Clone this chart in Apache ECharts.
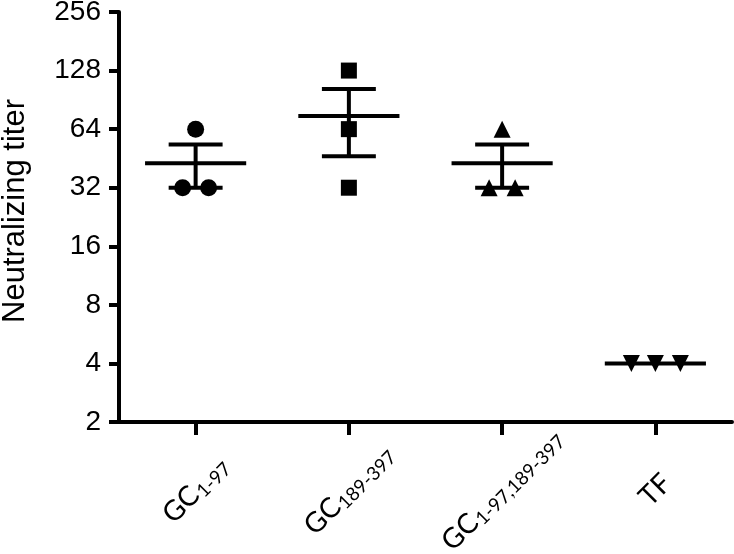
<!DOCTYPE html>
<html>
<head>
<meta charset="utf-8">
<script src="https://cdn.jsdelivr.net/npm/echarts@6/dist/echarts.min.js"></script>
<style>
html,body{margin:0;padding:0;background:#fff;}
#chart{width:734px;height:554px;}
</style>
</head>
<body>
<div id="chart"></div>
<script>
// ---- data ----
const categories = ['GC1-97', 'GC189-397', 'GC1-97,189-397', 'TF'];
const labelMain = ['GC', 'GC', 'GC', 'TF'];
const labelSub = ['1-97', '189-397', '1-97,189-397', ''];
const yTicks = [2, 4, 8, 16, 32, 64, 128, 256];

const pointsGC1 = [64, 32, 32];
const pointsGC189 = [128, 64, 32];
const pointsGCboth = [64, 32, 32];
const pointsTF = [4, 4, 4];

const means = [42.7, 74.7, 42.7, 4];
const semLow = [32, 46.4, 32, 4];
const semHigh = [53.3, 102.9, 53.3, 4];

// ---- styles (horizontal jitter in px, not data) ----
const jitterGC1 = [0, -13, 13];
const jitterGC189 = [0, 0, 0];
const jitterGCboth = [0, -13, 13];
const jitterTF = [-24, 0, 25];

const LW = 4;
const FONT = 'Liberation Sans, Arial, sans-serif';
const XFONT = 'Lato, Open Sans, sans-serif';

function pts(catIdx, values, jitter) {
  return values.map((v, i) => ({ value: [categories[catIdx], v], symbolOffset: [jitter[i], 0] }));
}

const chart = echarts.init(document.getElementById('chart'), null, { renderer: 'canvas' });

const scatterBase = {
  type: 'scatter',
  symbolSize: 17,
  itemStyle: { color: '#000', opacity: 1 },
  z: 3,
  silent: true
};

const option = {
  animation: false,
  backgroundColor: '#fff',
  grid: { left: 119, right: 2, top: 12, bottom: 132, containLabel: false, outerBoundsMode: 'none' },
  xAxis: {
    type: 'category',
    data: categories,
    boundaryGap: true,
    axisLine: { show: true, lineStyle: { color: '#000', width: LW } },
    axisTick: { show: true, alignWithLabel: true, length: 13, lineStyle: { color: '#000', width: LW } },
    axisLabel: {
      rotate: 45,
      align: 'center',
      verticalAlign: 'middle',
      margin: 68,
      interval: 0,
      hideOverlap: false,
      formatter: function (v, i) {
        const s = labelSub[i];
        return '{m|' + labelMain[i] + '}' + (s ? '{s|' + s + '}' : '');
      },
      rich: {
        m: { fontFamily: XFONT, fontSize: 28, color: '#000', lineHeight: 31, verticalAlign: 'middle' },
        s: { fontFamily: XFONT, fontSize: 19, color: '#000', lineHeight: 19, verticalAlign: 'bottom', padding: [0, 0, 0, 1] }
      }
    },
    splitLine: { show: false }
  },
  yAxis: {
    type: 'log',
    logBase: 2,
    min: 2,
    max: 256,
    interval: 1,
    name: 'Neutralizing titer',
    nameLocation: 'middle',
    nameGap: 88,
    nameRotate: 90,
    nameTextStyle: { fontFamily: FONT, fontSize: 31, color: '#000', padding: [0, 0, 0, 12] },
    axisLine: { show: true, lineStyle: { color: '#000', width: LW } },
    axisTick: { show: true, length: 10, lineStyle: { color: '#000', width: LW } },
    axisLabel: {
      fontFamily: FONT, fontSize: 28, color: '#000', margin: 18,
      formatter: function (v) { return yTicks.indexOf(Math.round(v)) >= 0 ? String(Math.round(v)) : ''; }
    },
    splitLine: { show: false }
  },
  series: [
    Object.assign({}, scatterBase, { symbol: 'circle', data: pts(0, pointsGC1, jitterGC1) }),
    Object.assign({}, scatterBase, { symbol: 'rect', symbolSize: 16, data: pts(1, pointsGC189, jitterGC189) }),
    Object.assign({}, scatterBase, { symbol: 'triangle', data: pts(2, pointsGCboth, jitterGCboth) }),
    Object.assign({}, scatterBase, { symbol: 'triangle', symbolRotate: 180, data: pts(3, pointsTF, jitterTF) }),
    {
      type: 'custom',
      silent: true,
      z: 4,
      data: categories.map((c, i) => [i, means[i], semLow[i], semHigh[i]]),
      renderItem: function (params, api) {
        const idx = api.value(0);
        const band = api.coord([1, 4])[0] - api.coord([0, 4])[0];
        const pm = api.coord([idx, api.value(1)]);
        const yLo = api.coord([idx, api.value(2)])[1];
        const yHi = api.coord([idx, api.value(3)])[1];
        const x = pm[0];
        const mh = band * 0.33;
        const ch = band * 0.176;
        const st = { stroke: '#000', lineWidth: LW, fill: null };
        const children = [
          { type: 'line', shape: { x1: x - mh, y1: pm[1], x2: x + mh, y2: pm[1] }, style: st }
        ];
        if (Math.abs(yHi - yLo) > 0.5) {
          children.push({ type: 'line', shape: { x1: x, y1: yHi, x2: x, y2: yLo }, style: st });
          children.push({ type: 'line', shape: { x1: x - ch, y1: yHi, x2: x + ch, y2: yHi }, style: st });
          children.push({ type: 'line', shape: { x1: x - ch, y1: yLo, x2: x + ch, y2: yLo }, style: st });
        }
        return { type: 'group', children: children };
      }
    }
  ]
};
chart.setOption(option);
</script>
</body>
</html>
